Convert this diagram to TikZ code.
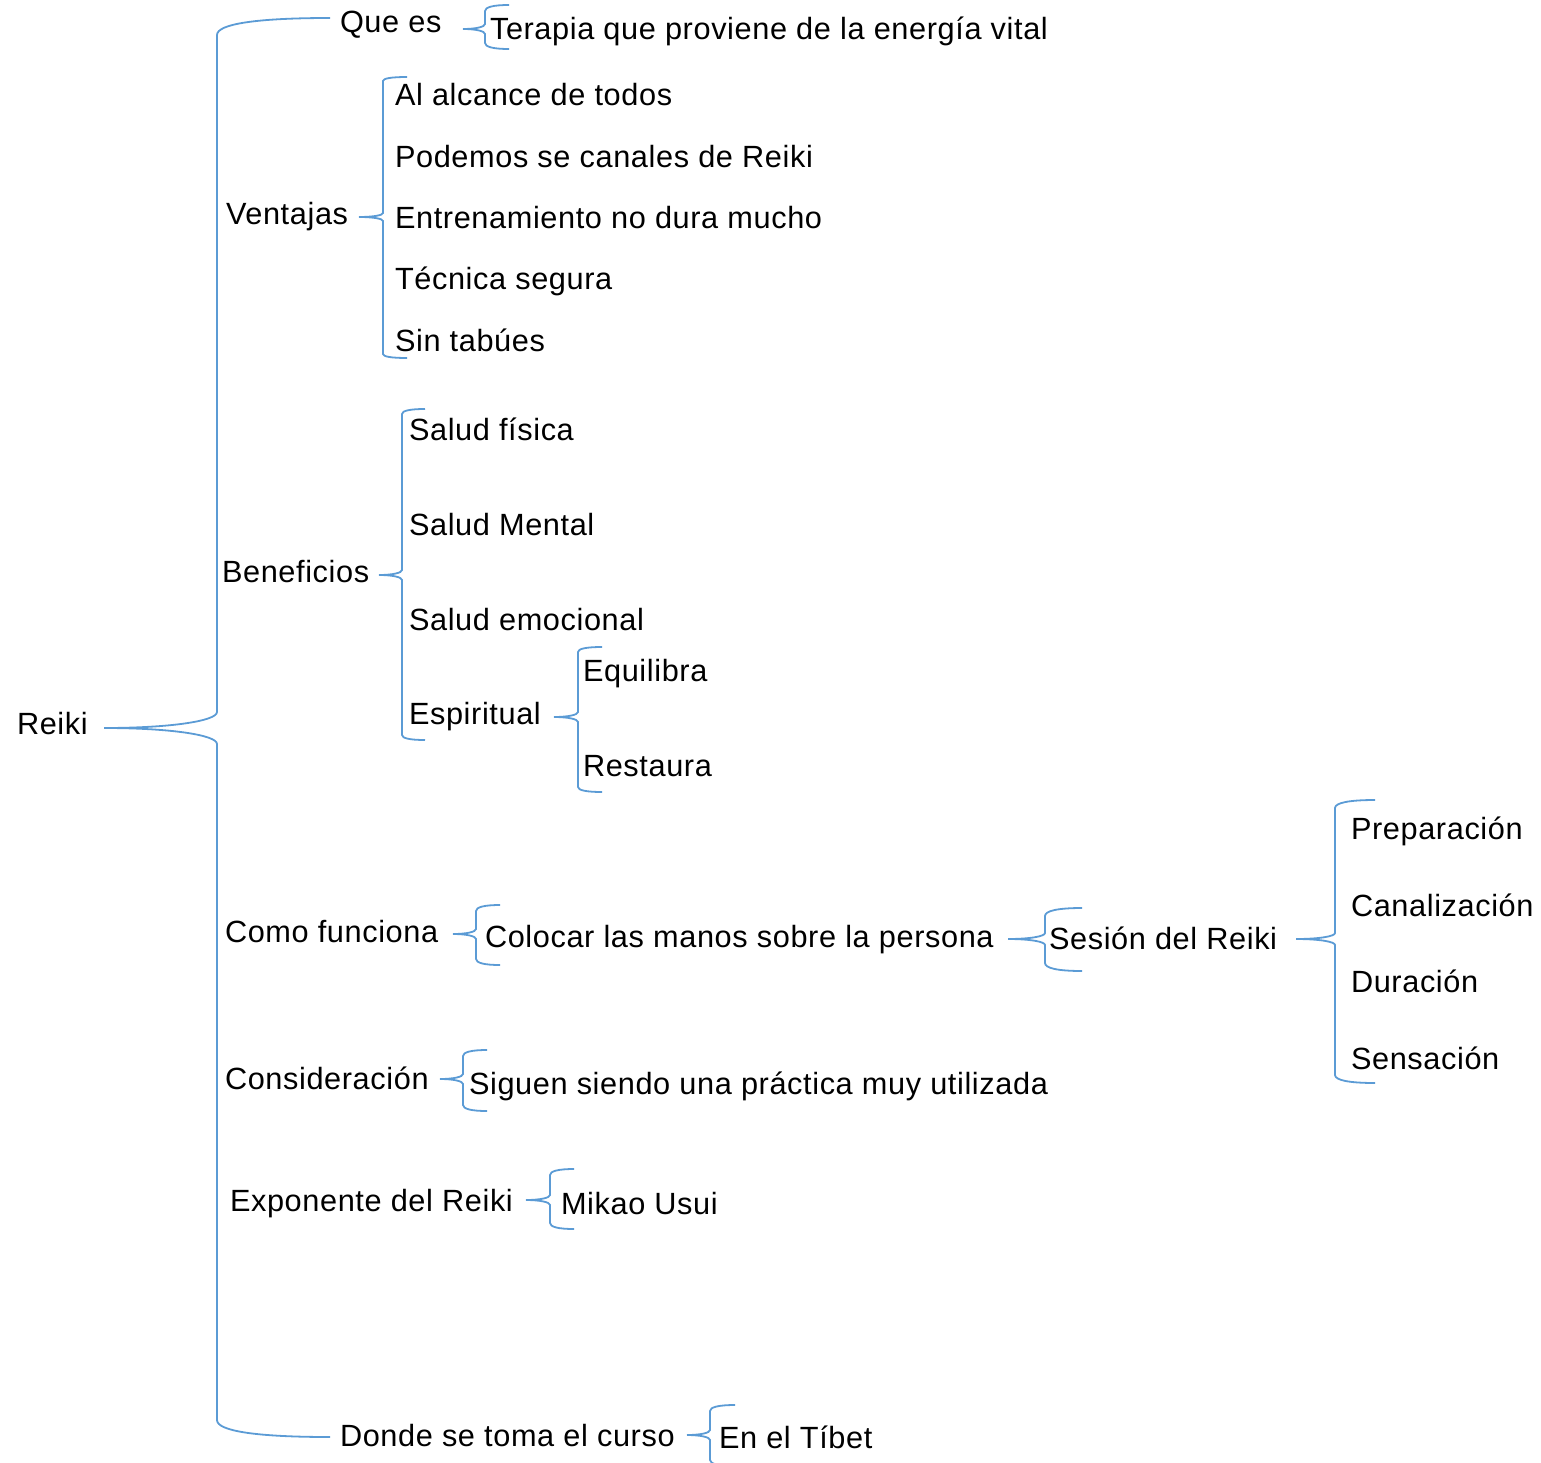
\documentclass[tikz,border=0pt]{standalone}
\usepackage{fontspec}
\setmainfont[LetterSpace=2.0]{Liberation Sans}
\definecolor{brblue}{HTML}{5B9BD5}
\tikzset{
  br/.style={draw=brblue, line width=1.8pt},
  lbl/.style={anchor=base west, inner sep=0pt, outer sep=0pt, font=\fontsize{30.7pt}{36pt}\selectfont, text=black}
}
% #1 tipx #2 tipy #3 vx #4 top #5 bot #6 endx #7 h #8 r
\newcommand\brc[8]{%
  \draw[br] (#1,#2) .. controls ({#1+0.6*(#3-#1)},#2) and (#3,{#2-0.45*#7}) .. (#3,{#2-#7})
     -- (#3,{#4+#8}) .. controls (#3,{#4+0.35*#8}) and ({#3+0.35*(#6-#3)},#4) .. (#6,#4);
  \draw[br] (#1,#2) .. controls ({#1+0.6*(#3-#1)},#2) and (#3,{#2+0.45*#7}) .. (#3,{#2+#7})
     -- (#3,{#5-#8}) .. controls (#3,{#5-0.35*#8}) and ({#3+0.35*(#6-#3)},#5) .. (#6,#5);
}
\begin{document}
\begin{tikzpicture}[x=1pt,y=-1pt]
\useasboundingbox (0,0) rectangle (1541,1463);
% labels
\node[lbl] (reiki) at (17,734) {Reiki};
\node[lbl] (quees) at (340,33) {Que es};
\node[lbl] (terapia) at (490,40) {Terapia que proviene de la energía vital};
\node[lbl] (ventajas) at (226,225) {Ventajas};
\node[lbl] (v1) at (395,106) {Al alcance de todos};
\node[lbl] (v2) at (395,168) {Podemos se canales de Reiki};
\node[lbl] (v3) at (395,229) {Entrenamiento no dura mucho};
\node[lbl] (v4) at (395,290) {Técnica segura};
\node[lbl] (v5) at (395,351) {Sin tabúes};
\node[lbl] (benef) at (222,582) {Beneficios};
\node[lbl] (b1) at (409,440) {Salud física};
\node[lbl] (b2) at (409,535) {Salud Mental};
\node[lbl] (b3) at (409,630) {Salud emocional};
\node[lbl] (b4) at (409,724) {Espiritual};
\node[lbl] (equil) at (583,681) {Equilibra};
\node[lbl] (rest) at (583,776) {Restaura};
\node[lbl] (como) at (225,942) {Como funciona};
\node[lbl] (coloc) at (485,947) {Colocar las manos sobre la persona};
\node[lbl] (sesion) at (1049,949) {Sesión del Reiki};
\node[lbl] (prep) at (1351,839) {Preparación};
\node[lbl] (canal) at (1351,916) {Canalización};
\node[lbl] (dur) at (1351,992) {Duración};
\node[lbl] (sens) at (1351,1069) {Sensación};
\node[lbl] (consid) at (225,1089) {Consideración};
\node[lbl] (siguen) at (469,1094) {Siguen siendo una práctica muy utilizada};
\node[lbl] (expon) at (230,1211) {Exponente del Reiki};
\node[lbl] (mikao) at (561,1214) {Mikao Usui};
\node[lbl] (donde) at (340,1446) {Donde se toma el curso};
\node[lbl] (tibet) at (719,1448) {En el Tíbet};
% braces
\brc{104}{728}{217}{18}{1437}{330}{16}{17}
\brc{463}{29}{485}{5}{49}{509}{5}{6}
\brc{359}{217}{383}{77}{358}{407}{4}{4}
\brc{379}{575}{402}{409}{740}{425}{5}{5}
\brc{554}{717}{578}{647}{792}{602}{5}{5}
\brc{453}{934}{476}{905}{965}{500}{5}{6}
\brc{1008}{939}{1045}{908}{971}{1082}{6}{8}
\brc{1296}{939}{1335}{800}{1083}{1375}{6}{8}
\brc{440}{1079}{463}{1050}{1111}{487}{5}{6}
\brc{526}{1200}{550}{1169}{1229}{574}{5}{6}
\brc{687}{1435}{710}{1405}{1466}{735}{5}{6}
\end{tikzpicture}
\end{document}
